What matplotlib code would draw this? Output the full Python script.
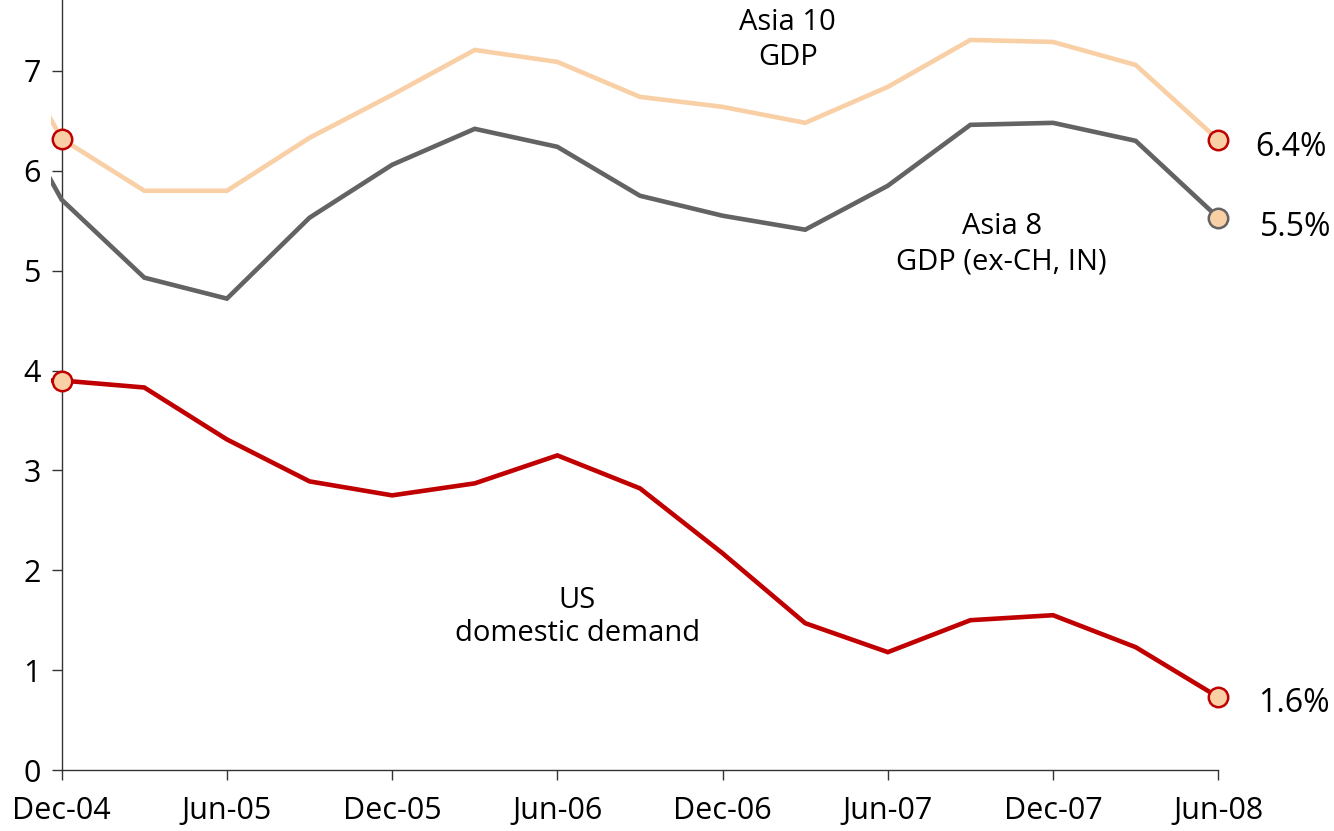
import matplotlib
matplotlib.use("Agg")
import matplotlib.pyplot as plt

# Quarterly data, index 0 = Dec-04 (Sep-04 partially visible at left edge)
quarters = ["Sep-04", "Dec-04", "Mar-05", "Jun-05", "Sep-05", "Dec-05", "Mar-06", "Jun-06",
            "Sep-06", "Dec-06", "Mar-07", "Jun-07", "Sep-07", "Dec-07", "Mar-08", "Jun-08"]
asia10 = [7.80, 6.32, 5.80, 5.80, 6.33, 6.76, 7.21, 7.09, 6.74, 6.64, 6.48, 6.84, 7.31, 7.29, 7.06, 6.31]
asia8 = [7.20, 5.71, 4.93, 4.72, 5.53, 6.06, 6.42, 6.24, 5.75, 5.55, 5.41, 5.85, 6.46, 6.48, 6.30, 5.53]
us_dd = [3.90, 3.90, 3.83, 3.31, 2.89, 2.75, 2.87, 3.15, 2.82, 2.17, 1.47, 1.18, 1.50, 1.55, 1.23, 0.73]
tick_labels = ["Dec-04", "Jun-05", "Dec-05", "Jun-06", "Dec-06", "Jun-07", "Dec-07", "Jun-08"]
end_labels = ["6.4%", "5.5%", "1.6%"]

plt.rcParams['font.family'] = ['Open Sans', 'DejaVu Sans']

fig = plt.figure(figsize=(13.34, 8.31), dpi=100)
ax = fig.add_axes([0.0382, 0.0734, 0.884, 0.9266])

x = list(range(-1, len(quarters) - 1))
c10 = "#F9CFA6"
c8 = "#636363"
cus = "#C00000"
lw = 3.3

ax.plot(x, asia10, color=c10, lw=lw, solid_joinstyle="miter", zorder=2)
ax.plot(x, asia8, color=c8, lw=lw, solid_joinstyle="miter", zorder=3)
ax.plot(x, us_dd, color=cus, lw=lw, solid_joinstyle="miter", zorder=3)

ms = 14
ax.plot([x[1], x[-1]], [asia10[1], asia10[-1]], ls="none", marker="o", ms=ms,
        mfc=c10, mec=cus, mew=1.8, zorder=5, clip_on=False)
ax.plot([x[1], x[-1]], [us_dd[1], us_dd[-1]], ls="none", marker="o", ms=ms,
        mfc=c10, mec=cus, mew=1.8, zorder=5, clip_on=False)
ax.plot([x[-1]], [asia8[-1]], ls="none", marker="o", ms=ms,
        mfc=c10, mec=c8, mew=1.8, zorder=5, clip_on=False)

ax.set_xlim(-0.13, 14.145)
ax.set_ylim(0, 7.71)
ax.spines['left'].set_position(('data', 0))
ax.spines['bottom'].set_bounds(0, 14)
for s in ['top', 'right']:
    ax.spines[s].set_visible(False)
for s in ['left', 'bottom']:
    ax.spines[s].set_color("#333333")
    ax.spines[s].set_linewidth(1.0)

ax.set_xticks(list(range(0, 15, 2)))
ax.set_xticklabels(tick_labels)
ax.set_yticks(range(0, 8))
ax.tick_params(axis='both', direction='out', length=7, width=1.0, color="#333333",
               labelsize=22)
ax.tick_params(axis='x', pad=12)
ax.tick_params(axis='y', pad=8)

fs = 21
ax.text(8.79, 7.31, "Asia 10\nGDP", ha="center", va="center", fontsize=fs, linespacing=1.3)
ax.text(11.38, 5.26, "Asia 8\nGDP (ex-CH, IN)", ha="center", va="center", fontsize=fs, linespacing=1.3)
ax.text(6.24, 1.53, "US\ndomestic demand", ha="center", va="center", fontsize=fs, linespacing=1.2)

ax.text(14.45, 6.23, end_labels[0], ha="left", va="center", fontsize=23, clip_on=False)
ax.text(14.5, 5.43, end_labels[1], ha="left", va="center", fontsize=23, clip_on=False)
ax.text(14.48, 0.67, end_labels[2], ha="left", va="center", fontsize=23, clip_on=False)

fig.savefig("out.png", dpi=100)
